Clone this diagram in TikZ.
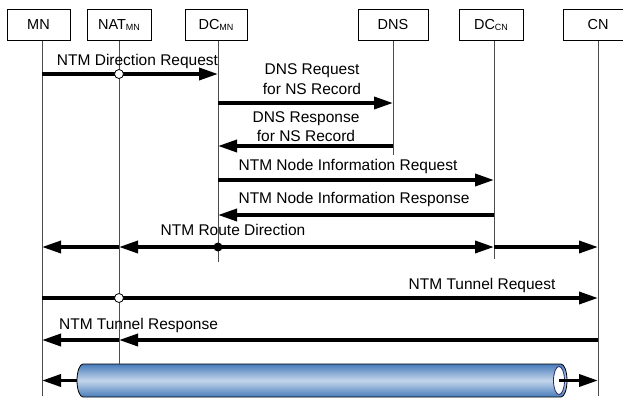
\documentclass[tikz,border=0pt]{standalone}
\usepackage{fontspec}
\setmainfont{Liberation Sans}
\usetikzlibrary{arrows.meta}

\definecolor{tubeblue}{RGB}{72,124,186}
\definecolor{tubelight}{RGB}{196,214,236}
\definecolor{mouthline}{RGB}{40,40,110}

\newcommand{\subtxt}[1]{\raisebox{-1pt}{\fontsize{9}{9}\selectfont #1}}

\begin{document}
\begin{tikzpicture}[x=1pt, y=-1pt,
    actor/.style={rectangle, draw, line width=0.8pt, minimum height=31.5pt, inner sep=0pt, font=\fontsize{14.5}{17}\selectfont},
    life/.style={line width=0.9pt, black!70},
    msg/.style={line width=3.5pt, -{Triangle[length=19pt, width=12pt]}},
    lbl/.style={anchor=base, align=center, inner sep=0pt, font=\fontsize{15.5}{19.5}\selectfont},
    hollow/.style={circle, draw, fill=white, line width=0.8pt, inner sep=0pt, minimum size=9pt},
    joint/.style={circle, fill=black, inner sep=0pt, minimum size=9pt}]
    \useasboundingbox (0,0) rectangle (623,399);

    % Entities
    \node (mnbox) at (38.5,25) [actor, minimum width=63pt] {MN};
    \node (natbox) at (119,25) [actor, minimum width=64pt] {NAT\subtxt{MN}};
    \node (dcmnbox) at (216,25) [actor, minimum width=62pt] {DC\subtxt{MN}};
    \node (dnsbox) at (393,25) [actor, minimum width=70pt] {DNS};
    \node (dccnbox) at (491,25) [actor, minimum width=64pt] {DC\subtxt{CN}};
    \node (cnbox) at (598,25) [actor, minimum width=70pt] {CN};

    % Lifelines
    \coordinate (mn) at (42,41);
    \coordinate (nat) at (119,41);
    \coordinate (dcmn) at (218,41);
    \coordinate (dns) at (393,41);
    \coordinate (dccn) at (494,41);
    \coordinate (cn) at (598,41);

    % Message heights
    \coordinate (dirreq) at (0,74);
    \coordinate (dnsreq) at (0,103);
    \coordinate (dnsres) at (0,146);
    \coordinate (inforeq) at (0,180);
    \coordinate (infores) at (0,215);
    \coordinate (route) at (0,247);
    \coordinate (tunreq) at (0,298);
    \coordinate (tunres) at (0,340);
    \coordinate (bottom) at (0,396);

    % Tunnel
    \coordinate (tubetop) at (0,364);
    \coordinate (tubeleft) at (77,380.5);
    \coordinate (tubemouth) at (559,380.5);
    \shadedraw[top color=tubeblue, bottom color=tubeblue, middle color=tubelight, line width=0.8pt]
        (83,364) -- (561,364) arc[start angle=90, end angle=-90, x radius=6pt, y radius=16.5pt]
        -- (83,397) arc[start angle=270, end angle=90, x radius=6pt, y radius=16.5pt] -- cycle;
    \draw[mouthline, fill=white, line width=0.8pt] (tubemouth) ellipse[x radius=5.5pt, y radius=14pt];

    \draw[life] (mn) -- (mn |- bottom);
    \draw[life] (nat) -- (nat |- tubetop);
    \draw[life] (dcmn) -- (218,262);
    \draw[life] (dns) -- (393,155);
    \draw[life] (dccn) -- (494,259);
    \draw[life] (cn) -- (cn |- bottom);

    % Messages
    \draw[msg] (mn |- dirreq) -- (dcmn |- dirreq);
    \node (natpass1) at (nat |- dirreq) [hollow] {};
    \node (dirreqlbl) at (137.5,65) [lbl] {NTM Direction Request};

    \draw[msg] (dcmn |- dnsreq) -- (dns |- dnsreq);
    \node (dnsreqlbl) at (312,94) [lbl] {DNS Request\\for NS Record};

    \draw[msg] (dns |- dnsres) -- (dcmn |- dnsres);
    \node (dnsreslbl) at (306,141.5) [lbl] {DNS Response\\for NS Record};

    \draw[msg] (dcmn |- inforeq) -- (dccn |- inforeq);
    \node (inforeqlbl) at (348,170) [lbl] {NTM Node Information Request};

    \draw[msg] (dccn |- infores) -- (dcmn |- infores);
    \node (inforeslbl) at (354,203) [lbl] {NTM Node Information Response};

    \node (split) at (dcmn |- route) [joint] {};
    \draw[msg] (split.center) -- (nat |- route);
    \draw[msg] (nat |- route) -- (mn |- route);
    \draw[msg] (split.center) -- (dccn |- route);
    \draw[msg] (dccn |- route) -- (cn |- route);
    \node (routelbl) at (233,235) [lbl] {NTM Route Direction};

    \draw[msg] (mn |- tunreq) -- (cn |- tunreq);
    \node (natpass2) at (nat |- tunreq) [hollow] {};
    \node (tunreqlbl) at (482,289) [lbl] {NTM Tunnel Request};

    \draw[msg] (cn |- tunres) -- (nat |- tunres);
    \draw[msg] (nat |- tunres) -- (mn |- tunres);
    \node (tunreslbl) at (138.5,329) [lbl] {NTM Tunnel Response};

    \draw[msg] (tubeleft) -- (mn |- tubeleft);
    \draw[msg] (tubemouth) -- (cn |- tubemouth);
\end{tikzpicture}
\end{document}
